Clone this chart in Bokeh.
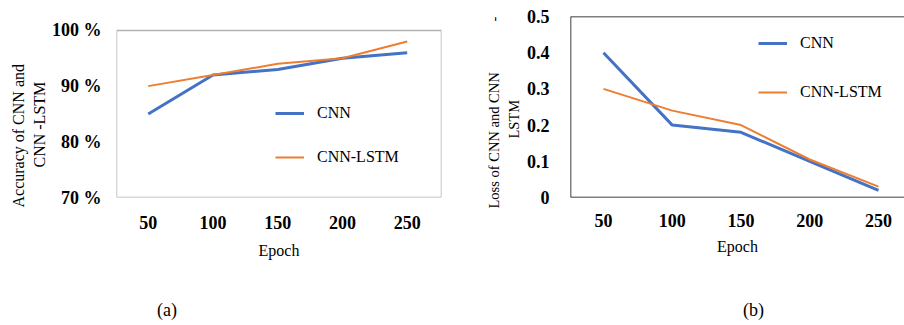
from bokeh.plotting import figure
from bokeh.layouts import row, column
from bokeh.models import Legend, LegendItem, FixedTicker, BoxAnnotation, Span, Title, Div
from bokeh.embed import file_html
from bokeh.resources import INLINE

# ---- data ----
epochs = ["50", "100", "150", "200", "250"]
acc_cnn = [85, 92, 93, 95, 96]
acc_cnn_lstm = [90, 92, 94, 95, 98]
acc_ticks = [70, 80, 90, 100]
acc_tick_labels = ["70 %", "80 %", "90 %", "100 %"]

loss_cnn = [0.40, 0.20, 0.18, 0.10, 0.02]
loss_cnn_lstm = [0.30, 0.24, 0.20, 0.105, 0.03]
loss_ticks = [0, 0.1, 0.2, 0.3, 0.4, 0.5]
loss_tick_labels = ["0", "0.1", "0.2", "0.3", "0.4", "0.5"]

series_names = ["CNN", "CNN-LSTM"]
panel_tags = ["(a)", "(b)"]
BLUE = "#4472C4"
ORANGE = "#ED7D31"
FONT = "Liberation Serif"
pos = list(range(1, len(epochs) + 1))


def style(p, yticks, ylabels):
    p.outline_line_color = None
    p.xgrid.visible = False
    p.ygrid.visible = False
    p.background_fill_color = None
    p.border_fill_color = "white"
    for ax in (p.xaxis[0], p.yaxis[0]):
        ax.axis_line_color = None
        ax.major_tick_line_color = None
        ax.minor_tick_line_color = None
        ax.major_tick_out = 0
        ax.major_tick_in = 0
        ax.minor_tick_out = 0
        ax.major_label_text_font = FONT
        ax.major_label_text_font_style = "bold"
        ax.major_label_text_font_size = "18px"
        ax.major_label_text_color = "black"
        ax.axis_label_text_font = FONT
        ax.axis_label_text_font_style = "normal"
        ax.axis_label_text_font_size = "16px"
        ax.axis_label_text_color = "black"
    p.xaxis[0].ticker = FixedTicker(ticks=pos)
    p.xaxis[0].major_label_overrides = {i: e for i, e in zip(pos, epochs)}
    p.xaxis[0].axis_label = "Epoch"
    p.yaxis[0].ticker = FixedTicker(ticks=yticks)
    p.yaxis[0].major_label_overrides = {t: l for t, l in zip(yticks, ylabels)}


def add_legend(p, r1, r2, x, y, spacing):
    leg = Legend(items=[LegendItem(label=series_names[0], renderers=[r1]),
                        LegendItem(label=series_names[1], renderers=[r2])],
                 location=(x, y), orientation="vertical",
                 label_text_font=FONT, label_text_font_size="16px",
                 label_text_color="black", glyph_width=29, glyph_height=20,
                 label_height=20, label_standoff=13, spacing=spacing,
                 padding=0, margin=0, border_line_color=None,
                 background_fill_alpha=0)
    p.add_layout(leg, "center")


def add_title(p, txt, side, align, offset, size, standoff=0):
    p.add_layout(Title(text=txt, align=align, offset=offset, standoff=standoff,
                       text_font=FONT, text_font_size=size, text_font_style="normal",
                       text_color="black"), side)


def tag_div(txt, width, left):
    html = (f'<div style="padding-left:{left}px;padding-top:25px;font-family:\'{FONT}\';'
            f'font-size:18px;line-height:21px;color:black;">{txt}</div>')
    return Div(text=html, width=width, height=50, margin=0)


H = 275
# ---- panel (a) ----
pa = figure(width=450, height=H, x_range=(0.51, 5.53), y_range=(70, 102.5),
            output_backend="svg", toolbar_location=None,
            min_border_left=116, min_border_right=9, min_border_top=16,
            min_border_bottom=H - 197)
style(pa, acc_ticks, acc_tick_labels)
pa.yaxis[0].major_label_standoff = 15
pa.xaxis[0].major_label_standoff = 18
pa.xaxis[0].axis_label_standoff = 10
pa.add_layout(BoxAnnotation(bottom=70, top=100, fill_alpha=0, line_color="black",
                            line_width=1.5, level="underlay"))
ra1 = pa.line(pos, acc_cnn, line_color=BLUE, line_width=3)
ra2 = pa.line(pos, acc_cnn_lstm, line_color=ORANGE, line_width=2)
add_legend(pa, ra1, ra2, 159, 30, 24)
add_title(pa, "CNN -LSTM", "left", "left", 30, "16px", 2)
add_title(pa, "Accuracy of CNN and", "left", "left", -10, "16px", 2)

# ---- panel (b) ----
pb = figure(width=454, height=H, x_range=(0.52, 5.378), y_range=(0, 0.5),
            output_backend="svg", toolbar_location=None,
            min_border_left=120, min_border_right=0, min_border_top=16,
            min_border_bottom=H - 197)
style(pb, loss_ticks, loss_tick_labels)
pb.yaxis[0].major_label_standoff = 21
pb.xaxis[0].major_label_standoff = 16
pb.xaxis[0].axis_label_standoff = 8
for loc, dim in [(0.52, "height"), (0, "width"), (0.5, "width")]:
    pb.add_layout(Span(location=loc, dimension=dim, line_color="black", line_width=1.5))
rb1 = pb.line(pos, loss_cnn, line_color=BLUE, line_width=3)
rb2 = pb.line(pos, loss_cnn_lstm, line_color=ORANGE, line_width=2)
add_legend(pb, rb1, rb2, 188, 95, 29)
add_title(pb, "LSTM", "left", "left", 59, "14.5px", 3)
add_title(pb, "Loss of CNN and CNN" + "\u00a0" * 14 + "-", "left", "left", -11, "14.5px", 2)

layout = column(row(pa, pb),
                row(tag_div(panel_tags[0], 450, 157), tag_div(panel_tags[1], 454, 293)))
open("out.html", "w").write(file_html(layout, INLINE))
